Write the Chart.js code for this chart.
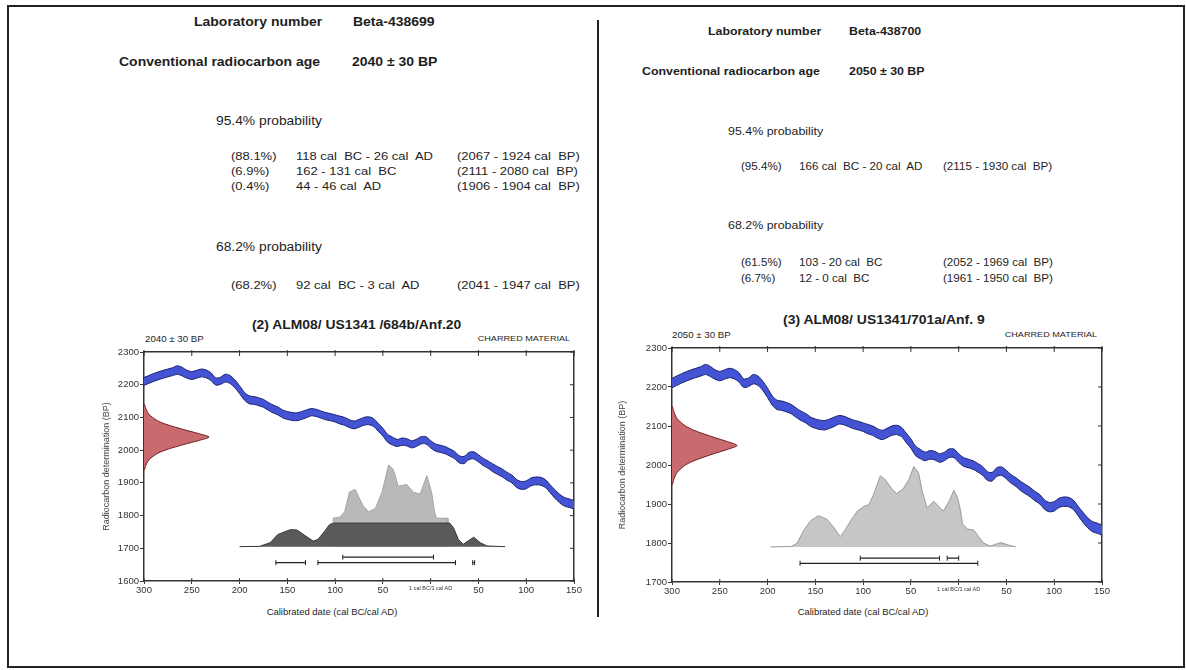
<!DOCTYPE html>
<html>
<head>
<meta charset="utf-8">
<script src="https://cdn.jsdelivr.net/npm/chart.js@4.4.0/dist/chart.umd.min.js"></script>
<style>
  body { margin: 0; background: #fff; width: 1186px; height: 670px; position: relative; overflow: hidden;
         font-family: "Liberation Sans", Arial, sans-serif; color: #1e1e1e; }
  .frame { position: absolute; left: 7px; top: 5px; width: 1174px; height: 659px; border: 2px solid #222; }
  .divider { position: absolute; left: 597px; top: 20px; width: 2px; height: 597px; background: #222; }
  .t { position: absolute; white-space: pre; line-height: 1; transform-origin: left center; }
  .b { font-weight: bold; transform: scaleX(1.075); }
  .h { transform: scaleX(1.15); }
  .r { transform: scaleX(1.13); }
  .s { transform: scaleX(1.14); }
  .rr { transform-origin: right center; }
  canvas { position: absolute; }
</style>
</head>
<body>
<div class="frame"></div>
<div class="divider"></div>

<!-- left sample -->
<div class="t b" style="left:194px;top:15px;font-size:13px">Laboratory number</div>
<div class="t b" style="left:353px;top:15px;font-size:13px">Beta-438699</div>
<div class="t b" style="left:119px;top:55px;font-size:13px">Conventional radiocarbon age</div>
<div class="t b" style="left:352px;top:55px;font-size:13px">2040 ± 30 BP</div>
<div class="t h" style="left:216px;top:115px;font-size:12px">95.4% probability</div>
<div class="t r" style="left:231px;top:151px;font-size:11.5px">(88.1%)</div>
<div class="t r" style="left:296px;top:151px;font-size:11.5px">118 cal  BC - 26 cal  AD</div>
<div class="t r" style="left:457px;top:151px;font-size:11.5px">(2067 - 1924 cal  BP)</div>
<div class="t r" style="left:231px;top:166px;font-size:11.5px">(6.9%)</div>
<div class="t r" style="left:296px;top:166px;font-size:11.5px">162 - 131 cal  BC</div>
<div class="t r" style="left:457px;top:166px;font-size:11.5px">(2111 - 2080 cal  BP)</div>
<div class="t r" style="left:231px;top:181px;font-size:11.5px">(0.4%)</div>
<div class="t r" style="left:296px;top:181px;font-size:11.5px">44 - 46 cal  AD</div>
<div class="t r" style="left:457px;top:181px;font-size:11.5px">(1906 - 1904 cal  BP)</div>
<div class="t h" style="left:216px;top:241px;font-size:12px">68.2% probability</div>
<div class="t r" style="left:231px;top:280px;font-size:11.5px">(68.2%)</div>
<div class="t r" style="left:296px;top:280px;font-size:11.5px">92 cal  BC - 3 cal  AD</div>
<div class="t r" style="left:457px;top:280px;font-size:11.5px">(2041 - 1947 cal  BP)</div>

<!-- right sample -->
<div class="t b" style="left:708px;top:26px;font-size:11.5px">Laboratory number</div>
<div class="t b" style="left:849px;top:26px;font-size:11.5px">Beta-438700</div>
<div class="t b" style="left:642px;top:66px;font-size:11.5px">Conventional radiocarbon age</div>
<div class="t b" style="left:849px;top:66px;font-size:11.5px">2050 ± 30 BP</div>
<div class="t h" style="left:728px;top:126px;font-size:10.8px">95.4% probability</div>
<div class="t r" style="left:741px;top:162px;font-size:10.3px">(95.4%)</div>
<div class="t r" style="left:799px;top:162px;font-size:10.3px">166 cal  BC - 20 cal  AD</div>
<div class="t r" style="left:943px;top:162px;font-size:10.3px">(2115 - 1930 cal  BP)</div>
<div class="t h" style="left:728px;top:220px;font-size:10.8px">68.2% probability</div>
<div class="t r" style="left:741px;top:258px;font-size:10.3px">(61.5%)</div>
<div class="t r" style="left:799px;top:258px;font-size:10.3px">103 - 20 cal  BC</div>
<div class="t r" style="left:943px;top:258px;font-size:10.3px">(2052 - 1969 cal  BP)</div>
<div class="t r" style="left:741px;top:274px;font-size:10.3px">(6.7%)</div>
<div class="t r" style="left:799px;top:274px;font-size:10.3px">12 - 0 cal  BC</div>
<div class="t r" style="left:943px;top:274px;font-size:10.3px">(1961 - 1950 cal  BP)</div>

<!-- chart headings -->
<div class="t" style="left:252px;top:319px;font-size:12.5px;font-weight:bold;transform:scaleX(1.11)">(2) ALM08/ US1341 /684b/Anf.20</div>
<div class="t s" style="left:145px;top:335px;font-size:8.5px">2040 ± 30 BP</div>
<div class="t s rr" style="right:616px;top:335px;font-size:8px">CHARRED MATERIAL</div>
<div class="t" style="left:332px;top:608px;font-size:8.5px;transform-origin:center;transform:translateX(-50%) scaleX(1.11)">Calibrated date (cal BC/cal AD)</div>

<div class="t" style="left:783px;top:314px;font-size:12.5px;font-weight:bold;transform:scaleX(1.115)">(3) ALM08/ US1341/701a/Anf. 9</div>
<div class="t s" style="left:672px;top:331px;font-size:8.5px">2050 ± 30 BP</div>
<div class="t s rr" style="right:89px;top:331px;font-size:8px">CHARRED MATERIAL</div>
<div class="t" style="left:863px;top:608px;font-size:8.5px;transform-origin:center;transform:translateX(-50%) scaleX(1.11)">Calibrated date (cal BC/cal AD)</div>

<canvas id="chart1" width="490" height="290" style="left:100px;top:340px"></canvas>
<canvas id="chart2" width="500" height="290" style="left:616px;top:336px"></canvas>

<script>
// calibration curve (cal BC negative, cal AD positive) in BP, with 1 sigma band
const curveYears = [-300,-290,-280,-270,-265,-260,-255,-250,-245,-240,-235,-230,-225,-220,-215,-210,-205,-200,-195,-190,
  -185,-180,-175,-170,-165,-160,-155,-150,-145,-140,-135,-130,-125,-120,-115,-110,-105,-100,-95,-90,
  -85,-80,-75,-70,-65,-60,-55,-50,-45,-40,-35,-30,-25,-20,-15,-10,-5,0,5,10,
  15,20,25,30,35,40,45,50,55,60,65,70,75,80,85,90,95,100,105,110,
  115,120,125,130,135,140,145,150];
const curveBP = [2210,2222,2232,2240,2245,2240,2232,2228,2232,2236,2233,2225,2210,2212,2220,2216,2203,2185,2165,2154,
  2152,2148,2143,2134,2126,2120,2111,2106,2103,2102,2106,2111,2116,2114,2109,2104,2101,2097,2092,2088,
  2081,2077,2082,2088,2090,2085,2070,2055,2036,2028,2022,2026,2024,2018,2022,2030,2030,2018,2008,2004,
  2000,1993,1985,1972,1970,1982,1984,1975,1964,1956,1946,1938,1930,1920,1912,1898,1892,1894,1903,1906,
  1905,1898,1882,1866,1852,1842,1838,1833];
const curveSigma = [12,12,12,12,13,13,12,12,12,12,12,12,11,11,12,12,12,12,12,12,
  12,12,12,12,12,12,12,12,12,12,12,12,11,11,11,11,11,11,12,12,
  12,12,12,12,12,12,12,12,12,12,11,11,11,11,11,11,11,11,11,11,
  11,11,11,11,11,11,11,11,11,11,12,12,12,12,12,12,12,12,12,12,
  12,12,12,13,13,13,13,13];

// measured age distribution drawn against the BP axis (width in years from the left edge)
const gaussWidth = [0.5,1.5,3,5,9,14,22,33,45,58,68,58,45,33,22,14,9,5,3,1.5,0.5];
const gaussBP1 = [2140,2130,2120,2110,2100,2090,2080,2070,2060,2050,2040,2030,2020,2010,2000,1990,1980,1970,1960,1950,1940];
const gaussBP2 = [2150,2140,2130,2120,2110,2100,2090,2080,2070,2060,2050,2040,2030,2020,2010,2000,1990,1980,1970,1960,1950];

// calibrated distribution, sample 1 (Beta-438699)
const distBase1 = 1705;
const distDarkYears1 = [-200,-179,-168,-160,-147,-140,-132,-123,-118,-111,-106,-102,20,24,29,34,39,45,52,59,78];
const distDarkBP1 = [1705,1706,1717,1742,1757,1756,1740,1722,1727,1752,1772,1777,1777,1762,1727,1712,1722,1734,1717,1707,1705];
const distLightYears1 = [-102,-102,-95,-90,-85,-79,-71,-65,-58,-51,-44,-39,-34,-25,-18,-11,-4,1,4,6,18,18];
const distLightBP1 = [1777,1792,1795,1812,1872,1880,1831,1812,1821,1871,1955,1940,1890,1895,1871,1866,1922,1871,1812,1792,1792,1777];
const range68_1 = [[-92, 3]];
const range95_1 = [[-162, -131], [-118, 26], [44, 46]];
const rowBP1 = [1673, 1656];

// calibrated distribution, sample 2 (Beta-438700)
const distBase2 = 1790;
const distYears2 = [-197,-175,-169,-162,-155,-147,-138,-131,-124,-119,-113,-106,-99,-94,-89,-82,-77,-70,-65,-58,
  -52,-47,-42,-38,-33,-26,-21,-16,-10,-5,-1,2,4,9,16,21,26,33,44,53,60];
const distBP2 = [1790,1791,1800,1833,1857,1870,1861,1841,1816,1833,1857,1882,1894,1898,1925,1972,1963,1939,1927,1939,
  1963,1996,1980,1931,1890,1907,1894,1882,1907,1935,1915,1882,1849,1836,1833,1816,1800,1792,1801,1794,1790];
const range68_2 = [[-103, -20], [-12, 0]];
const range95_2 = [[-166, 20]];
const rowBP2 = [1761, 1748];

const xTicks = { min: -300, max: 150, step: 50 };

const FONT = '"Liberation Sans", Arial, sans-serif';
const axisColor = '#333';

const toPoints = (xs, ys) => xs.map((x, i) => ({ x: x, y: ys[i] }));

const rangePoints = (ranges, row) => {
  const pts = [];
  ranges.forEach(r => {
    pts.push({ x: r[0], y: row }, { x: r[1], y: row }, { x: r[1], y: null });
  });
  return pts;
};

const rangeSet = (ranges, row) => ({
  data: rangePoints(ranges, row),
  borderColor: '#222', borderWidth: 1.2,
  pointStyle: 'line', rotation: 90, pointRadius: 2.5,
  pointBorderColor: '#222', pointBorderWidth: 1,
  fill: false, spanGaps: false, order: 0
});

// small tick marks pointing into the frame on the top, right and bottom sides
const innerTicks = {
  id: 'innerTicks',
  afterDraw(chart) {
    const { ctx, chartArea: a, scales } = chart;
    ctx.save();
    ctx.strokeStyle = axisColor;
    ctx.lineWidth = 1;
    ctx.beginPath();
    scales.x.ticks.forEach(t => {
      const px = scales.x.getPixelForValue(t.value);
      ctx.moveTo(px, a.top - 2); ctx.lineTo(px, a.top + 4);
      ctx.moveTo(px, a.bottom - 3); ctx.lineTo(px, a.bottom);
    });
    scales.y.ticks.forEach(t => {
      const py = scales.y.getPixelForValue(t.value);
      ctx.moveTo(a.right - 4, py); ctx.lineTo(a.right, py);
    });
    ctx.stroke();
    ctx.restore();
  }
};

function buildChart(id, o) {
  const ctx = document.getElementById(id).getContext('2d');

  const upper = curveBP.map((v, i) => ({ x: curveYears[i], y: v + curveSigma[i] }));
  const lower = curveBP.map((v, i) => ({ x: curveYears[i], y: v - curveSigma[i] }));
  const gauss = o.gaussBP.map((v, i) => ({ x: xTicks.min + gaussWidth[i], y: v }));

  const datasets = [
    { data: upper, borderColor: '#1a2373', borderWidth: 1, pointRadius: 0, fill: false, tension: 0.3, order: 3 },
    { data: lower, borderColor: '#1a2373', borderWidth: 1, pointRadius: 0, fill: '-1',
      backgroundColor: '#4353d4', tension: 0.3, order: 3 },
    // vertical density: filled back to the left edge of the x axis
    { data: gauss, indexAxis: 'y', borderColor: '#6e1f22', borderWidth: 1, pointRadius: 0,
      fill: { value: xTicks.min }, backgroundColor: '#c96a6e', tension: 0.3, order: 3 }
  ];
  o.dists.forEach(d => datasets.push({
    data: d.points, borderColor: d.edge, borderWidth: 1, pointRadius: 0,
    fill: { value: d.base }, backgroundColor: d.color, tension: 0, order: d.order
  }));
  datasets.push(rangeSet(o.r68, o.rows[0]));
  datasets.push(rangeSet(o.r95, o.rows[1]));

  const tickFont = c => ({ family: FONT, size: (c.tick && c.tick.value === 0) ? 5.5 : 9.5 });

  return new Chart(ctx, {
    type: 'line',
    data: { datasets: datasets },
    plugins: [innerTicks],
    options: {
      responsive: false,
      animation: false,
      layout: { padding: 0 },
      plugins: { legend: { display: false }, tooltip: { enabled: false } },
      scales: {
        x: {
          type: 'linear', position: 'bottom', min: xTicks.min, max: xTicks.max,
          afterFit: s => { s.height = o.xh; },
          ticks: { stepSize: xTicks.step, autoSkip: false, maxRotation: 0, padding: 1, color: '#333', font: tickFont,
                   callback: v => v === 0 ? '1 cal BC/1 cal AD' : String(Math.abs(v)) },
          grid: { drawOnChartArea: false, tickLength: 3, color: axisColor },
          border: { color: axisColor, width: 1.5 }
        },
        x2: {
          type: 'linear', position: 'top', min: xTicks.min, max: xTicks.max,
          afterFit: s => { s.height = 12; },
          ticks: { display: false, stepSize: xTicks.step },
          grid: { drawOnChartArea: false, drawTicks: false },
          border: { color: axisColor, width: 1.5 }
        },
        y: {
          type: 'linear', position: 'left', min: o.ymin, max: 2300,
          afterFit: s => { s.width = o.yw; },
          ticks: { stepSize: 100, padding: 1, color: '#333', font: { family: FONT, size: 9.5 }, callback: v => String(v) },
          grid: { drawOnChartArea: false, tickLength: 4, color: axisColor },
          border: { color: axisColor, width: 1.5 },
          title: { display: true, text: 'Radiocarbon determination (BP)', color: '#444',
                   font: { family: FONT, size: 9 }, padding: 1 }
        },
        y2: {
          type: 'linear', position: 'right', min: o.ymin, max: 2300,
          afterFit: s => { s.width = o.y2w; },
          ticks: { display: false, stepSize: 100 },
          grid: { drawOnChartArea: false, drawTicks: false },
          border: { color: axisColor, width: 1.5 }
        }
      }
    }
  });
}

buildChart('chart1', {
  ymin: 1600, yw: 44, y2w: 16, xh: 49,
  gaussBP: gaussBP1,
  dists: [
    { points: toPoints(distDarkYears1, distDarkBP1), base: distBase1, color: '#5a5a5a', edge: '#3a3a3a', order: 1 },
    { points: toPoints(distLightYears1, distLightBP1), base: distBase1, color: '#b9b9b9', edge: '#a5a5a5', order: 2 }
  ],
  r68: range68_1, r95: range95_1, rows: rowBP1
});

buildChart('chart2', {
  ymin: 1700, yw: 56, y2w: 14, xh: 44,
  gaussBP: gaussBP2,
  dists: [
    { points: toPoints(distYears2, distBP2), base: distBase2, color: '#c6c6c6', edge: '#9a9a9a', order: 1 }
  ],
  r68: range68_2, r95: range95_2, rows: rowBP2
});
</script>
</body>
</html>
